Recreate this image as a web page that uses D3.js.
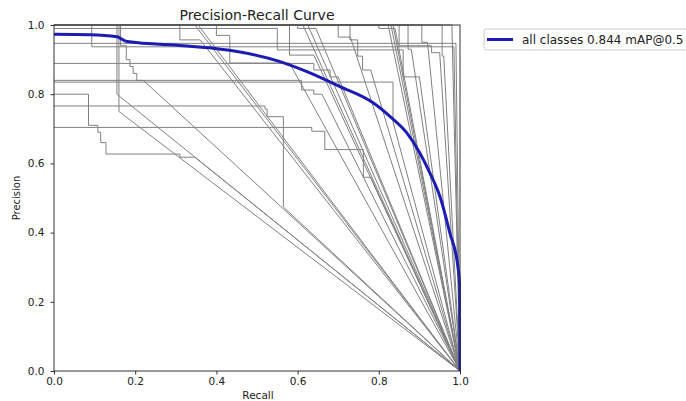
<!DOCTYPE html>
<html><head><meta charset="utf-8">
<script src="https://cdn.jsdelivr.net/npm/d3@7"></script>
<style>body{margin:0;background:#fff} svg{display:block} text{font-family:"DejaVu Sans",sans-serif;fill:#222}</style>
</head><body><svg id="c" width="686" height="401"></svg>
<script>
const xTicks = [0, 0.2, 0.4, 0.6, 0.8, 1.0];
const yTicks = [0, 0.2, 0.4, 0.6, 0.8, 1.0];
// per-class step curves: recall end of each step, precision level of each step
const classEnds = [
  [0.085,0.108,0.115,0.128,0.31,0.347],
  [0.155,0.155],
  [0.16,0.16],
  [0.164,0.178,0.187,0.195,0.204,0.22],
  [0.093,0.985],
  [0.99],
  [0.64,0.68,0.70],
  [0.835,0.835],
  [0.52,0.525,0.565,0.565],
  [0.635,0.667,0.762,0.78],
  [0.347],
  [0.355],
  [0.31,0.36],
  [0.40,0.433,0.58],
  [0.58,0.64],
  [0.613],
  [0.625],
  [0.60,0.645],
  [0.70,0.73],
  [0.729,0.748,0.76,0.78],
  [0.823],
  [0.83],
  [0.835],
  [0.80,0.84],
  [0.872,0.88],
  [0.906,0.92],
  [0.956,0.96],
  [0.98],
  [0.85,0.93,0.95],
  [0.55,0.86,0.9],
  [0.61,0.64,0.66]
];
const classLevels = [
  [0.80,0.71,0.69,0.66,0.627,0.618],
  [1.0,0.80],
  [1.0,0.75],
  [1.0,0.94,0.90,0.88,0.86,0.84],
  [1.0,0.937],
  [0.947],
  [0.889,0.87,0.85],
  [0.835,0.72],
  [0.766,0.757,0.735,0.474],
  [0.704,0.693,0.64,0.56],
  [1.0],
  [1.0],
  [1.0,0.957],
  [1.0,0.97,0.89],
  [1.0,0.913],
  [1.0],
  [1.0],
  [1.0,0.99],
  [1.0,0.965],
  [1.0,0.957,0.91,0.87],
  [1.0],
  [1.0],
  [1.0],
  [1.0,0.99],
  [1.0,0.93],
  [1.0,0.95],
  [1.0,0.91],
  [1.0],
  [1.0,0.94,0.92],
  [0.99,0.928,0.85],
  [0.84,0.812,0.80]
];
const mapRecall    = [0, 0.089, 0.155, 0.18, 0.318, 0.392, 0.458, 0.557, 0.623, 0.704, 0.786, 0.828, 0.869, 0.901, 0.926, 0.951, 0.975, 0.995, 0.999, 1.0];
const mapPrecision = [0.973, 0.972, 0.966, 0.952, 0.940, 0.933, 0.922, 0.894, 0.865, 0.822, 0.775, 0.735, 0.688, 0.630, 0.572, 0.503, 0.399, 0.30, 0.25, 0.0];
const legendLabel = "all classes 0.844 mAP@0.5";

const svg = d3.select("#c");
const x = d3.scaleLinear().domain([0,1]).range([54,460]);
const y = d3.scaleLinear().domain([0,1]).range([371,25]);

svg.append("clipPath").attr("id","clip").append("rect")
  .attr("x",54).attr("y",24).attr("width",407).attr("height",348);

const g = svg.append("g").attr("clip-path","url(#clip)");
const line = d3.line().x(d=>x(d[0])).y(d=>y(d[1]));

classEnds.forEach((ends,i)=>{
  const lv = classLevels[i];
  const pts = [];
  let start = 0;
  ends.forEach((e,j)=>{ pts.push([start, lv[j]]); pts.push([e, lv[j]]); start = e; });
  pts.push([1,0]);
  g.append("path").attr("d", line(pts)).attr("fill","none")
    .attr("stroke","#808080").attr("stroke-width",1);
});

const mapPts = mapRecall.map((r,i)=>[r, mapPrecision[i]]);
g.append("path").attr("d", d3.line().x(d=>x(d[0])).y(d=>y(d[1])).curve(d3.curveMonotoneX)(mapPts))
  .attr("fill","none").attr("stroke","#1c1cb4").attr("stroke-width",3);

// axes
const xa = svg.append("g").attr("transform","translate(0,371)")
  .call(d3.axisBottom(x).tickValues(xTicks).tickFormat(d3.format(".1f")).tickSize(3.5).tickPadding(3.5));
const ya = svg.append("g").attr("transform","translate(54,0)")
  .call(d3.axisLeft(y).tickValues(yTicks).tickFormat(d3.format(".1f")).tickSize(3.5).tickPadding(6));
[xa,ya].forEach(a=>{
  a.select(".domain").remove();
  a.selectAll("line").attr("stroke","#333");
  a.selectAll("text").attr("font-size",10.5).attr("fill","#222").style("font-family","DejaVu Sans");
});
svg.append("rect").attr("x",54).attr("y",25).attr("width",406).attr("height",346)
  .attr("fill","none").attr("stroke","#333").attr("stroke-width",1);

svg.append("text").attr("x",257).attr("y",20).attr("text-anchor","middle").attr("font-size",14).text("Precision-Recall Curve");
svg.append("text").attr("x",258).attr("y",399).attr("text-anchor","middle").attr("font-size",10.5).text("Recall");
svg.append("text").attr("transform","translate(20,198) rotate(-90)").attr("text-anchor","middle").attr("font-size",10).text("Precision");

// legend
const lg = svg.append("g");
lg.append("rect").attr("x",484).attr("y",29).attr("width",220).attr("height",21).attr("rx",2)
  .attr("fill","#fff").attr("stroke","#ccc");
lg.append("line").attr("x1",487).attr("x2",513).attr("y1",39.5).attr("y2",39.5)
  .attr("stroke","#1c1cb4").attr("stroke-width",3);
lg.append("text").attr("x",522).attr("y",44).attr("font-size",12).text(legendLabel);
</script></body></html>
